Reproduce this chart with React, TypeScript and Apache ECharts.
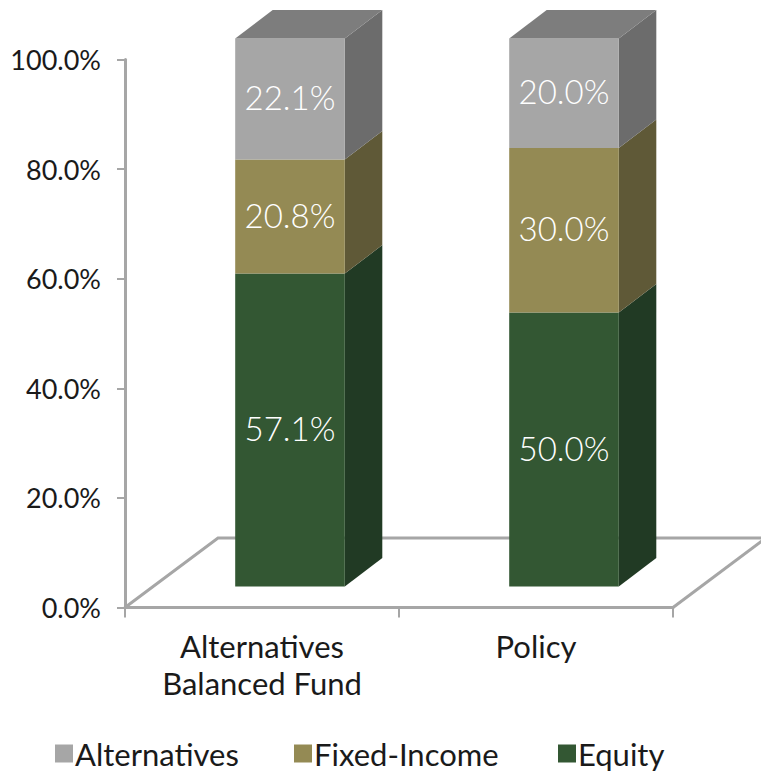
import React, { useEffect, useRef } from "react";
import * as echarts from "echarts";

const categories = ["Alternatives\nBalanced Fund", "Policy"];
const equity = [57.1, 50.0];
const fixedIncome = [20.8, 30.0];
const alternatives = [22.1, 20.0];
const legendNames = ["Alternatives", "Fixed-Income", "Equity"];

const FONT = "Lato";
const INK = "#1a1a1a";
const AXIS_GREY = "#a6a6a6";

// Projection used for the pseudo-3D columns, in pixels.
const DEPTH_X = 37.5;
const DEPTH_Y = 28.5;
const FRONT_SHIFT_X = 28;
const FRONT_SHIFT_Y = -21;
const BAR_RATIO = 0.4;

function columnRenderer(front: string, side: string, top: string | null) {
  return (_params: any, api: any) => {
    const cat = api.value(0);
    const start = api.value(1);
    const end = api.value(2);
    const base = api.coord([cat, start]);
    const head = api.coord([cat, end]);
    const width = api.size([1, 0])[0] * BAR_RATIO;
    const x0 = base[0] + FRONT_SHIFT_X - width / 2;
    const x1 = x0 + width;
    const y0 = base[1] + FRONT_SHIFT_Y;
    const y1 = head[1] + FRONT_SHIFT_Y;
    const children: any[] = [
      {
        type: "polygon",
        shape: { points: [[x1, y0], [x1 + DEPTH_X, y0 - DEPTH_Y], [x1 + DEPTH_X, y1 - DEPTH_Y], [x1, y1]] },
        style: { fill: side },
      },
      {
        type: "rect",
        shape: { x: x0, y: y1, width, height: y0 - y1 },
        style: { fill: front },
      },
    ];
    if (top) {
      children.push({
        type: "polygon",
        shape: { points: [[x0, y1], [x0 + DEPTH_X, y1 - DEPTH_Y], [x1 + DEPTH_X, y1 - DEPTH_Y], [x1, y1]] },
        style: { fill: top },
      });
    }
    children.push({
      type: "text",
      x: (x0 + x1) / 2,
      y: (y0 + y1) / 2 - 2,
      style: {
        text: (end - start).toFixed(1) + "%",
        fill: "#ffffff",
        font: `300 33px ${FONT}`,
        align: "center",
        verticalAlign: "middle",
      },
    });
    return { type: "group", children };
  };
}

// Floor parallelogram behind the columns, derived from the plot rectangle.
function floorRenderer(params: any) {
  const rect = params.coordSys;
  const left = rect.x;
  const right = rect.x + rect.width;
  const bottom = rect.y + rect.height;
  const dx = 93;
  const dy = 69.5;
  const lineStyle = { fill: "none", stroke: AXIS_GREY, lineWidth: 3 };
  return {
    type: "group",
    children: [
      { type: "polyline", shape: { points: [[left, bottom], [left + dx, bottom - dy], [right + dx, bottom - dy]] }, style: lineStyle },
      { type: "line", shape: { x1: right, y1: bottom, x2: right + dx, y2: bottom - dy }, style: lineStyle },
    ],
  };
}

function stackedRows(values: number[], below: number[][]) {
  return values.map((v, i) => {
    const start = below.reduce((sum, row) => sum + row[i], 0);
    return [i, start, start + v];
  });
}

// Each legend entry is placed on its own so the spacing can be set per item.
const legendLefts = [50, 289, 553];
function legendEntry(name: string, i: number) {
  return {
    left: legendLefts[i],
    top: 733,
    itemWidth: 18,
    itemHeight: 18,
    itemGap: 0,
    icon: "rect",
    data: [name],
    textStyle: { fontFamily: FONT, fontSize: 31, color: INK, padding: [0, 0, 0, -3] },
  };
}

export default function App() {
  const ref = useRef<HTMLDivElement>(null);

  useEffect(() => {
    const chart = echarts.init(ref.current!, undefined, { renderer: "svg" });
    chart.setOption({
      animation: false,
      backgroundColor: "#ffffff",
      grid: { left: 125, right: 88, top: 59.5, bottom: 164.5, containLabel: false },
      legend: legendNames.map(legendEntry),
      xAxis: {
        type: "category",
        data: categories,
        axisLine: { lineStyle: { color: AXIS_GREY, width: 3 } },
        axisTick: { show: true, length: 10, alignWithLabel: false, lineStyle: { color: AXIS_GREY, width: 2 } },
        axisLabel: { fontFamily: FONT, fontSize: 31, color: INK, margin: 20, lineHeight: 37, interval: 0 },
      },
      yAxis: {
        type: "value",
        min: 0,
        max: 100,
        interval: 20,
        splitLine: { show: false },
        axisLine: { show: true, lineStyle: { color: AXIS_GREY, width: 3 } },
        axisTick: { show: true, length: 8, lineStyle: { color: AXIS_GREY, width: 2 } },
        axisLabel: {
          fontFamily: FONT,
          fontSize: 27,
          color: INK,
          margin: 24,
          formatter: (v: number) => v.toFixed(1) + "%",
        },
      },
      series: [
        {
          type: "custom",
          silent: true,
          z: 1,
          data: [[0]],
          renderItem: floorRenderer,
          encode: { x: 0 },
        },
        {
          name: "Equity",
          type: "custom",
          z: 2,
          itemStyle: { color: "#335733" },
          encode: { x: 0, y: [1, 2] },
          data: stackedRows(equity, []),
          renderItem: columnRenderer("#335733", "#213a24", null),
        },
        {
          name: "Fixed-Income",
          type: "custom",
          z: 3,
          itemStyle: { color: "#948a54" },
          encode: { x: 0, y: [1, 2] },
          data: stackedRows(fixedIncome, [equity]),
          renderItem: columnRenderer("#948a54", "#5f5937", null),
        },
        {
          name: "Alternatives",
          type: "custom",
          z: 4,
          itemStyle: { color: "#a6a6a6" },
          encode: { x: 0, y: [1, 2] },
          data: stackedRows(alternatives, [equity, fixedIncome]),
          renderItem: columnRenderer("#a6a6a6", "#6c6c6c", "#7d7d7d"),
        },
      ],
    });
    return () => chart.dispose();
  }, []);

  return <div ref={ref} style={{ position: "fixed", left: 0, top: 0, width: 761, height: 772 }} />;
}
